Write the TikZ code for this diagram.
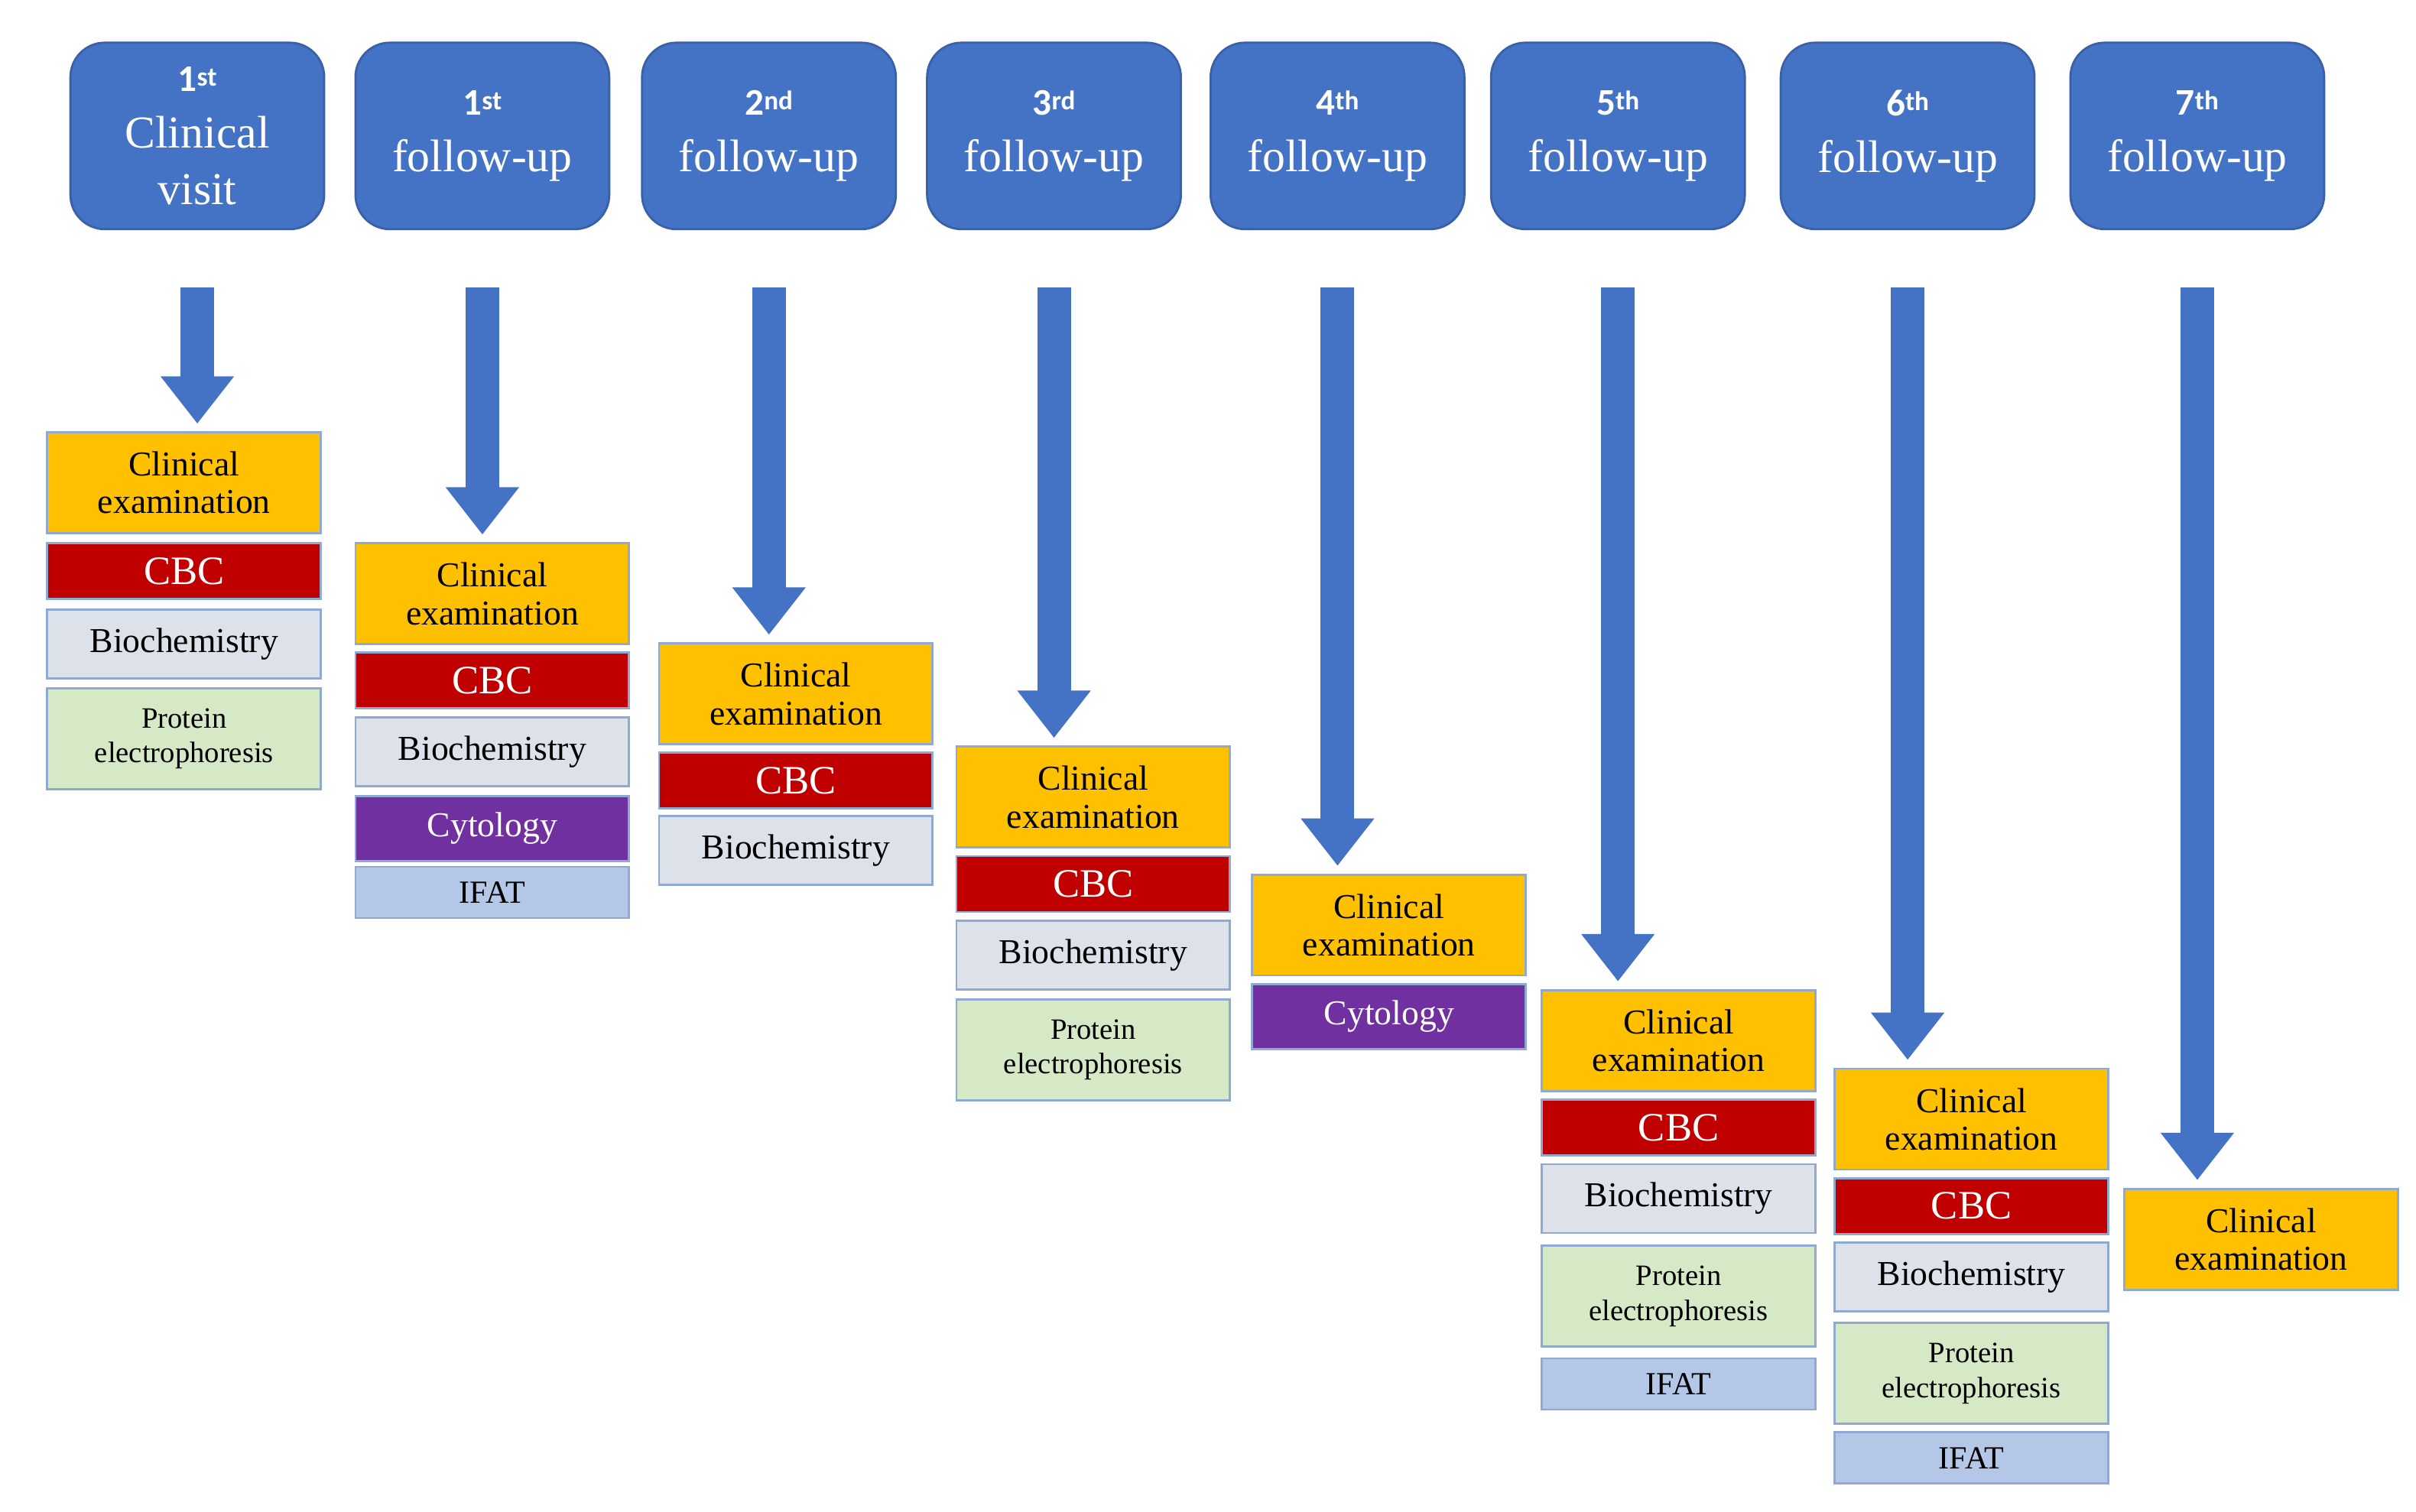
\documentclass[tikz,border=0pt]{standalone}
\usepackage{fontspec}
\setmainfont{Liberation Serif}
\newfontfamily\hdfont{Carlito}
\usetikzlibrary{arrows.meta}
\definecolor{hdblue}{HTML}{4472C4}
\definecolor{clinorange}{HTML}{FFC000}
\definecolor{cbcred}{HTML}{C00000}
\definecolor{biogrey}{HTML}{DDE1EA}
\definecolor{protgreen}{HTML}{D6E9C6}
\definecolor{cytopurple}{HTML}{7030A0}
\definecolor{ifatblue}{HTML}{B4C7E7}
\definecolor{boxline}{HTML}{8EA9D2}
\newcommand{\stagenum}[2]{\hdfont\bfseries\fontsize{14}{16}\selectfont #1\raisebox{2pt}{\fontsize{10}{12}\selectfont #2}}

\begin{document}
\begin{tikzpicture}[x=0.02015cm,y=-0.02015cm,
        head/.style={draw=hdblue!85!black,fill=hdblue,rounded corners=0.45cm,line width=0.8pt,
            minimum width=3.32cm,minimum height=2.44cm,text=white,align=center,anchor=north west,inner sep=0pt,
            font=\fontsize{17}{21}\selectfont},
        test/.style={draw=boxline,line width=0.8pt,minimum width=3.58cm,anchor=north west,inner sep=0pt,
            align=center,font=\fontsize{13}{14}\selectfont},
        clin/.style={test,fill=clinorange,minimum height=1.32cm},
        cbc/.style={test,fill=cbcred,text=white,minimum height=0.73cm,font=\fontsize{15}{16}\selectfont},
        bio/.style={test,fill=biogrey,minimum height=0.9cm},
        prot/.style={test,fill=protgreen,minimum height=1.32cm,font=\fontsize{11}{13}\selectfont},
        cyto/.style={test,fill=cytopurple,text=white,minimum height=0.85cm},
        ifat/.style={test,fill=ifatblue,minimum height=0.67cm,font=\fontsize{12}{13}\selectfont},
        bigarrow/.style={draw=hdblue,line width=0.44cm,-{Triangle[width=0.92cm,length=0.62cm]},
            shorten <=0.75cm,shorten >=0.1cm}]
    \useasboundingbox (0,0) rectangle (1568,981);

    % headers
    \node[head] (h1) at (45,27) {\stagenum{1}{st}\\Clinical\\visit};
    \node[head] (h2) at (230,27) {\stagenum{1}{st}\\follow-up};
    \node[head] (h3) at (416,27) {\stagenum{2}{nd}\\follow-up};
    \node[head] (h4) at (601,27) {\stagenum{3}{rd}\\follow-up};
    \node[head] (h5) at (785,27) {\stagenum{4}{th}\\follow-up};
    \node[head] (h6) at (967,27) {\stagenum{5}{th}\\follow-up};
    \node[head] (h7) at (1155,27) {\stagenum{6}{th}\\follow-up};
    \node[head] (h8) at (1343,27) {\stagenum{7}{th}\\follow-up};

    % tests
    \node[clin] (c1) at (30,280) {Clinical\\examination};
    \node[cbc] (b1) at (30,352) {CBC};
    \node[bio] (s1) at (30,395) {Biochemistry};
    \node[prot] (p1) at (30,446) {Protein\\electrophoresis};

    \node[clin] (c2) at (230,352) {Clinical\\examination};
    \node[cbc] (b2) at (230,423) {CBC};
    \node[bio] (s2) at (230,465) {Biochemistry};
    \node[cyto] (y2) at (230,516) {Cytology};
    \node[ifat] (i2) at (230,562) {IFAT};

    \node[clin] (c3) at (427,417) {Clinical\\examination};
    \node[cbc] (b3) at (427,488) {CBC};
    \node[bio] (s3) at (427,529) {Biochemistry};

    \node[clin] (c4) at (620,484) {Clinical\\examination};
    \node[cbc] (b4) at (620,555) {CBC};
    \node[bio] (s4) at (620,597) {Biochemistry};
    \node[prot] (p4) at (620,648) {Protein\\electrophoresis};

    \node[clin] (c5) at (812,567) {Clinical\\examination};
    \node[cyto] (y5) at (812,638) {Cytology};

    \node[clin] (c6) at (1000,642) {Clinical\\examination};
    \node[cbc] (b6) at (1000,713) {CBC};
    \node[bio] (s6) at (1000,755) {Biochemistry};
    \node[prot] (p6) at (1000,808) {Protein\\electrophoresis};
    \node[ifat] (i6) at (1000,881) {IFAT};

    \node[clin] (c7) at (1190,693) {Clinical\\examination};
    \node[cbc] (b7) at (1190,764) {CBC};
    \node[bio] (s7) at (1190,806) {Biochemistry};
    \node[prot] (p7) at (1190,858) {Protein\\electrophoresis};
    \node[ifat] (i7) at (1190,929) {IFAT};

    \node[clin] (c8) at (1378,771) {Clinical\\examination};

    % arrows
    \foreach \i in {1,...,8}
        \draw[bigarrow] (h\i.south) -- (h\i.south |- c\i.north);
\end{tikzpicture}
\end{document}
